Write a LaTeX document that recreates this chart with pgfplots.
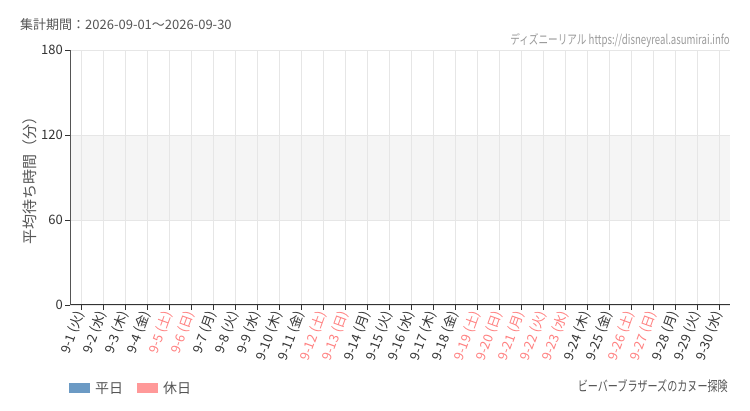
\documentclass[border=0pt]{standalone}
\usepackage{fontspec}
\setmainfont{Noto Sans CJK JP}
\usepackage{pgfplots}
\pgfplotsset{compat=1.18}

\definecolor{gridgray}{HTML}{E6E6E6}
\definecolor{bandgray}{HTML}{F5F5F5}
\definecolor{axisdark}{HTML}{333333}
\definecolor{holred}{HTML}{FF8080}
\definecolor{weekblue}{HTML}{6B9AC4}
\definecolor{holpink}{HTML}{FF9999}
\definecolor{txtgray}{HTML}{555555}
\definecolor{urlgray}{HTML}{999999}

\newcommand{\hol}[1]{\textcolor{holred}{#1}}
\newcommand{\fs}[1]{\fontsize{#1}{#1}\selectfont}

\begin{document}
\begin{tikzpicture}[x=1pt,y=1pt]
\path (0,0) rectangle (750,410);

\begin{axis}[
  set layers,
  at={(70pt,105pt)}, anchor=south west,
  width=660pt, height=255pt, scale only axis,
  xmin=-0.5, xmax=29.5, ymin=0, ymax=180,
  xtick={0,...,29}, ytick={0,60,120,180},
  xticklabels={9-1 (火),9-2 (水),9-3 (木),9-4 (金),\hol{9-5 (土)},\hol{9-6 (日)},
    9-7 (月),9-8 (火),9-9 (水),9-10 (木),9-11 (金),\hol{9-12 (土)},\hol{9-13 (日)},
    9-14 (月),9-15 (火),9-16 (水),9-17 (木),9-18 (金),\hol{9-19 (土)},\hol{9-20 (日)},
    \hol{9-21 (月)},\hol{9-22 (火)},\hol{9-23 (水)},9-24 (木),9-25 (金),
    \hol{9-26 (土)},\hol{9-27 (日)},9-28 (月),9-29 (火),9-30 (水)},
  axis x line*=bottom, axis y line*=left,
  x axis line style={axisdark, line width=1pt},
  y axis line style={txtgray, line width=1pt},
  tick align=outside, major tick length=5pt,
  tick style={axisdark, line width=0.8pt},
  xmajorgrids, ymajorgrids,
  grid style={gridgray, line width=0.8pt},
  /pgf/number format/assume math mode=true,
  xticklabel style={rotate=70, anchor=east, font=\fs{13}, text=axisdark, inner sep=2pt},
  yticklabel style={font=\fs{13}, text=axisdark, inner sep=2pt},
  ylabel={平均待ち時間（分）},
  every axis y label/.style={at={(axis description cs:-0.0606,0.5)}, rotate=90, anchor=center, font=\fs{15}, text=txtgray},
  legend style={at={(-0.006,-0.285)}, anchor=north west, draw=none, fill=none,
    legend columns=2, font=\fs{14}, text=txtgray,
    /tikz/every odd column/.append style={column sep=3pt},
    /tikz/every even column/.append style={column sep=12pt}},
  legend image code/.code={\fill[#1] (0pt,-5pt) rectangle (21pt,5pt);},
]
% shaded band between 60 and 120 minutes
\addplot[fill=bandgray, draw=none, on layer=axis background, forget plot]
  coordinates {(-0.5,60) (29.5,60) (29.5,120) (-0.5,120)} -- cycle;
% no waiting-time data in this period
\addplot[draw=none, forget plot] coordinates {(0,0) (29,0)};
\addlegendimage{fill=weekblue, draw=none}
\addlegendentry{平日}
\addlegendimage{fill=holpink, draw=none}
\addlegendentry{休日}
\end{axis}

\node[anchor=west, text=txtgray, font=\fs{13}, inner sep=0pt] at (20,385) {集計期間：2026-09-01～2026-09-30};
\node[anchor=east, text=urlgray, font=\fs{13}, inner sep=0pt] at (730,370) {\scalebox{0.74}[1]{ディズニーリアル https://disneyreal.asumirai.info}};
\node[anchor=east, text=txtgray, font=\fs{14}, inner sep=0pt] at (728,24) {\scalebox{0.72}[1]{ビーバーブラザーズのカヌー探険}};
\end{tikzpicture}
\end{document}
